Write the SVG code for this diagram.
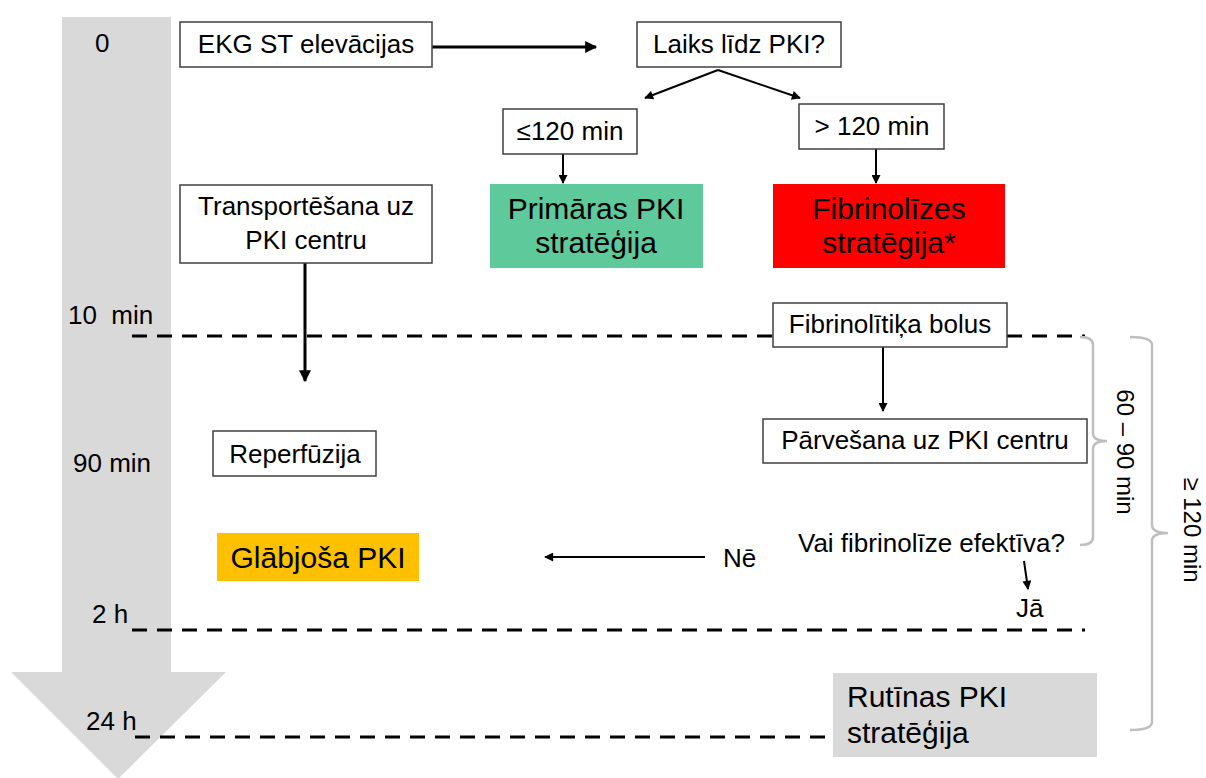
<svg xmlns="http://www.w3.org/2000/svg" width="1206" height="778" viewBox="0 0 1206 778">
  <style>
    text { font-family: "Liberation Sans", Arial, sans-serif; fill: #000; }
    .t { font-size: 26px; }
    .rot { font-size: 24px; }
    .big { font-size: 30px; }
    .mid { text-anchor: middle; }
    .box { fill: #fff; stroke: #404040; stroke-width: 1.5; }
    .ln { fill: none; stroke: #000; stroke-width: 2; }
    .thick { stroke-width: 3; }
    .dash { fill: none; stroke: #000; stroke-width: 3; stroke-dasharray: 15 10; }
    .brace { fill: none; stroke: #bfbfbf; stroke-width: 2.5; }
  </style>
  <defs>
    <marker id="ah" viewBox="0 0 10 10" refX="9" refY="5" markerWidth="10" markerHeight="9" markerUnits="userSpaceOnUse" orient="auto">
      <path d="M0,0 L10,5 L0,10 z" fill="#000"/>
    </marker>
    <marker id="ahBig" viewBox="0 0 10 10" refX="9" refY="5" markerWidth="13" markerHeight="12" markerUnits="userSpaceOnUse" orient="auto">
      <path d="M0,0 L10,5 L0,10 z" fill="#000"/>
    </marker>
  </defs>

  <!-- time axis -->
  <g id="timeline">
    <path d="M62,17 H171 V672 H226 L118,779 L11,672 H62 Z" fill="#d9d9d9"/>
    <text class="t" x="95" y="52">0</text>
    <text class="t" x="68" y="324" style="white-space:pre">10  min</text>
    <text class="t" x="73" y="472">90 min</text>
    <text class="t" x="92" y="623">2 h</text>
    <text class="t" x="86" y="730">24 h</text>
  </g>

  <!-- time markers and connectors -->
  <g id="connectors">
    <line class="dash" x1="132" y1="336" x2="1085" y2="336"/>
    <line class="dash" x1="132" y1="630" x2="1085" y2="630"/>
    <line class="dash" x1="135" y1="737" x2="833" y2="737"/>

    <line class="ln thick" x1="432" y1="47" x2="596" y2="47" marker-end="url(#ahBig)"/>
    <line class="ln" x1="718" y1="70" x2="645" y2="98" marker-end="url(#ah)"/>
    <line class="ln" x1="718" y1="70" x2="800" y2="98" marker-end="url(#ah)"/>
    <line class="ln" x1="563" y1="154" x2="563" y2="183" marker-end="url(#ah)"/>
    <line class="ln" x1="876" y1="149" x2="876" y2="183" marker-end="url(#ah)"/>
    <line class="ln thick" x1="305" y1="263" x2="305" y2="381" marker-end="url(#ahBig)"/>
    <line class="ln" x1="883" y1="347" x2="883" y2="411" marker-end="url(#ah)"/>
    <line class="ln" x1="705" y1="557" x2="545" y2="557" marker-end="url(#ah)"/>
    <line class="ln" x1="1024" y1="561" x2="1028" y2="589" marker-end="url(#ah)"/>

    <path class="brace" d="M1080,337 Q1093,337 1093,345 L1093,433 Q1093,441 1107,441 Q1093,441 1093,449 L1093,537 Q1093,545 1080,545"/>
    <path class="brace" d="M1130,337 Q1152,337 1152,345 L1152,525 Q1152,533 1168,533 Q1152,533 1152,541 L1152,722 Q1152,730 1130,730"/>
  </g>

  <g id="ekg">
    <rect class="box" x="180" y="22" width="252" height="45"/>
    <text class="t mid" x="306" y="53">EKG ST elevācijas</text>
  </g>

  <g id="laiks">
    <rect class="box" x="637" y="22" width="204" height="45"/>
    <text class="t mid" x="739" y="53">Laiks līdz PKI?</text>
  </g>

  <g id="le120">
    <rect class="box" x="503" y="109" width="134" height="45"/>
    <text class="t mid" x="570" y="140">≤120 min</text>
  </g>

  <g id="gt120">
    <rect class="box" x="799" y="104" width="145" height="45"/>
    <text class="t mid" x="872" y="135">&gt; 120 min</text>
  </g>

  <g id="primaras">
    <rect x="490" y="184" width="213" height="84" fill="#5ec99b"/>
    <text class="big mid" x="596" y="219">Primāras PKI</text>
    <text class="big mid" x="596" y="253">stratēģija</text>
  </g>

  <g id="fibrinolizes">
    <rect x="773" y="184" width="232" height="84" fill="#ff0000"/>
    <text class="big mid" x="889" y="219">Fibrinolīzes</text>
    <text class="big mid" x="889" y="253">stratēgija*</text>
  </g>

  <g id="transport">
    <rect class="box" x="180" y="185" width="252" height="78"/>
    <text class="t mid" x="306" y="215">Transportēšana uz</text>
    <text class="t mid" x="306" y="249">PKI centru</text>
  </g>

  <g id="bolus">
    <rect class="box" x="773" y="303" width="234" height="44"/>
    <text class="t mid" x="890" y="333">Fibrinolītiķa bolus</text>
  </g>

  <g id="parvesana">
    <rect class="box" x="763" y="419" width="324" height="44"/>
    <text class="t mid" x="925" y="449">Pārvešana uz PKI centru</text>
  </g>

  <g id="reperfuzija">
    <rect class="box" x="213" y="431" width="163" height="45"/>
    <text class="t mid" x="295" y="463">Reperfūzija</text>
  </g>

  <g id="glabjosa">
    <rect x="217" y="533" width="202" height="48" fill="#ffc000"/>
    <text class="big mid" x="318" y="568">Glābjoša PKI</text>
  </g>

  <g id="efektiva">
    <text class="t" x="798" y="552">Vai fibrinolīze efektīva?</text>
  </g>

  <g id="ne">
    <text class="t" x="723" y="567">Nē</text>
  </g>

  <g id="ja">
    <text class="t" x="1016" y="617">Jā</text>
  </g>

  <g id="rutinas">
    <rect x="833" y="673" width="264" height="84" fill="#d9d9d9"/>
    <text class="big" x="847" y="707">Rutīnas PKI</text>
    <text class="big" x="847" y="743">stratēģija</text>
  </g>

  <g id="dur60">
    <text class="rot mid" transform="translate(1117,452) rotate(90)">60 – 90 min</text>
  </g>

  <g id="dur120">
    <text class="rot mid" transform="translate(1184,530) rotate(90)">≥ 120 min</text>
  </g>
</svg>
